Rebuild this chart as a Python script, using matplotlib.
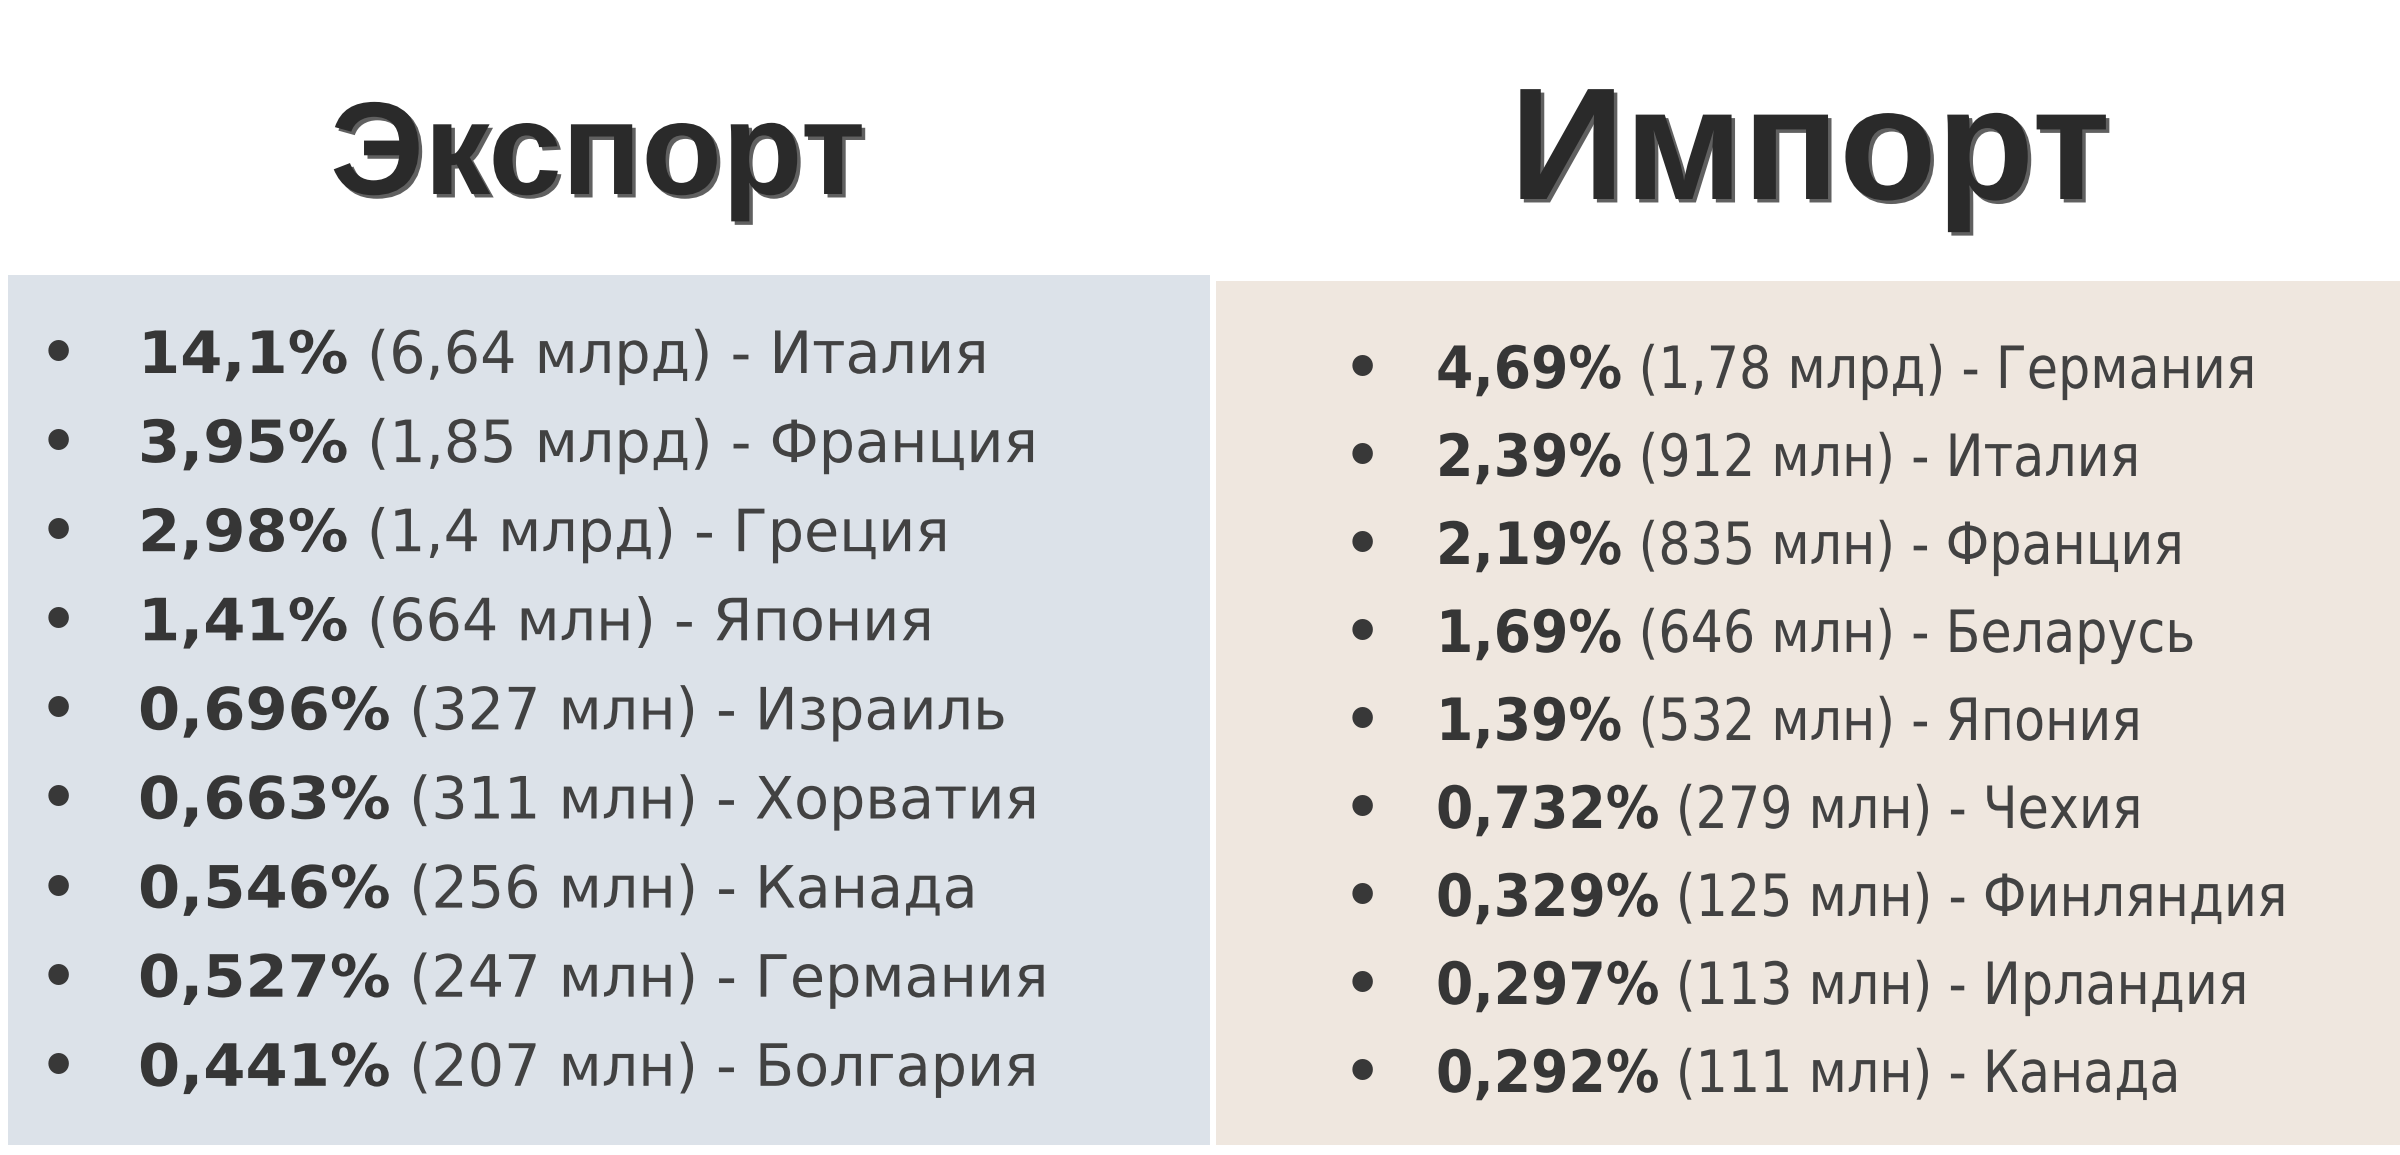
import matplotlib
matplotlib.use("Agg")
import matplotlib.pyplot as plt
import matplotlib.patheffects as pe
from matplotlib.patches import Rectangle
from matplotlib.transforms import Affine2D

# data
export_share = ["14,1%", "3,95%", "2,98%", "1,41%", "0,696%", "0,663%", "0,546%", "0,527%", "0,441%"]
export_value = ["6,64 млрд", "1,85 млрд", "1,4 млрд", "664 млн", "327 млн", "311 млн", "256 млн", "247 млн", "207 млн"]
export_country = ["Италия", "Франция", "Греция", "Япония", "Израиль", "Хорватия", "Канада", "Германия", "Болгария"]

import_share = ["4,69%", "2,39%", "2,19%", "1,69%", "1,39%", "0,732%", "0,329%", "0,297%", "0,292%"]
import_value = ["1,78 млрд", "912 млн", "835 млн", "646 млн", "532 млн", "279 млн", "125 млн", "113 млн", "111 млн"]
import_country = ["Германия", "Италия", "Франция", "Беларусь", "Япония", "Чехия", "Финляндия", "Ирландия", "Канада"]


class HScale(pe.AbstractPathEffect):
    # squeeze/stretch text horizontally around its anchor
    def __init__(self, sx):
        super().__init__()
        self.sx = sx

    def draw_path(self, renderer, gc, tpath, affine, rgbFace=None):
        renderer.draw_path(gc, tpath, Affine2D().scale(self.sx, 1) + affine, rgbFace)


W, H = 2400, 1155
fig = plt.figure(figsize=(W / 100, H / 100), dpi=100)
ax = fig.add_axes([0, 0, 1, 1])
ax.set_xlim(0, W)
ax.set_ylim(H, 0)
ax.axis("off")

# panels
ax.add_patch(Rectangle((8, 275), 1202, 870, facecolor="#dce2e9", edgecolor="none"))
ax.add_patch(Rectangle((1216, 281), 1184, 864, facecolor="#efe7df", edgecolor="none"))

shadow = [pe.SimplePatchShadow(offset=(2.5, -2.5), shadow_rgbFace="#606060", alpha=1.0), pe.Normal()]
ax.text(598, 194, "Экспорт", ha="center", va="baseline", fontsize=95, fontweight="bold",
        family="Liberation Sans", color="#2a2a2a", path_effects=shadow)
ax.text(1810, 199, "Импорт", ha="center", va="baseline", fontsize=115, fontweight="bold",
        family="Liberation Sans", color="#2a2a2a", path_effects=shadow)

fs = 42
body_font = ["DejaVu Sans"]
renderer = fig.canvas.get_renderer()


def draw_list(shares, values, countries, x_bullet, x_text, y0, dy, sx_bold, sx_norm):
    for i, (s, v, c) in enumerate(zip(shares, values, countries)):
        y = y0 + i * dy
        ax.text(x_bullet, y, "•", ha="center", va="baseline", fontsize=fs,
                fontweight="bold", family=body_font, color="#383838")
        t = ax.text(x_text, y, s, ha="left", va="baseline", fontsize=fs,
                    fontweight="bold", family=body_font, color="#363636",
                    path_effects=[HScale(sx_bold)])
        w = t.get_window_extent(renderer).width * sx_bold
        ax.text(x_text + w, y, " (" + v + ") - " + c, ha="left", va="baseline",
                fontsize=fs, family=body_font, color="#424242",
                path_effects=[HScale(sx_norm)])


draw_list(export_share, export_value, export_country, 58, 138, 373, 89.1, 1.04, 0.98)
draw_list(import_share, import_value, import_country, 1362, 1436, 388, 88, 0.92, 0.87)

fig.savefig("out.png", dpi=100)
